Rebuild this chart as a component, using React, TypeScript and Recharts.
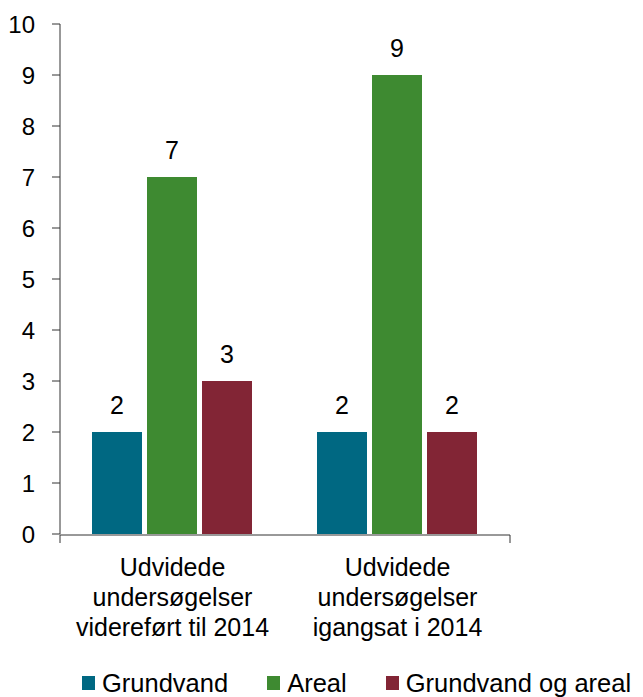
import React from "react";
import { BarChart, Bar, XAxis, YAxis, Legend, LabelList } from "recharts";

const categories = [
  "Udvidede undersøgelser videreført til 2014",
  "Udvidede undersøgelser igangsat i 2014",
];
const categoryLines: string[][] = [
  ["Udvidede", "undersøgelser", "videreført til 2014"],
  ["Udvidede", "undersøgelser", "igangsat i 2014"],
];
const grundvand = [2, 2];
const areal = [7, 9];
const grundvandOgAreal = [3, 2];
const yTicks = [0, 1, 2, 3, 4, 5, 6, 7, 8, 9, 10];
const boundaryTicks = [0, 1, 2];

const seriesNames = ["Grundvand", "Areal", "Grundvand og areal"];
const seriesColors = ["#006882", "#3E8A31", "#822535"];

const data = categories.map((c, i) => ({
  name: c,
  grundvand: grundvand[i],
  areal: areal[i],
  begge: grundvandOgAreal[i],
}));

const FONT = "'Liberation Sans', Arial, Helvetica, sans-serif";

const CategoryTick = (props: any) => {
  const { x, y, payload } = props;
  const idx = categories.indexOf(payload.value);
  const lines = idx >= 0 ? categoryLines[idx] : [String(payload.value)];
  return (
    <text x={x} y={y} textAnchor="middle" fill="#000" fontSize={25} fontFamily={FONT}>
      {lines.map((l, i) => (
        <tspan key={i} x={x} dy={i === 0 ? 42 : 30}>
          {l}
        </tspan>
      ))}
    </text>
  );
};

const EmptyTick = () => <g />;

const LegendContent = () => {
  return (
    <div style={{ display: "flex", alignItems: "center", paddingLeft: 82, fontFamily: FONT }}>
      {seriesNames.map((name, i) => (
        <div key={i} style={{ display: "flex", alignItems: "center", marginRight: 39 }}>
          <div style={{ width: 13, height: 14, background: seriesColors[i], marginRight: 7 }} />
          <span style={{ fontSize: 25.5, color: "#000", lineHeight: "30px", whiteSpace: "nowrap" }}>{name}</span>
        </div>
      ))}
    </div>
  );
};

export default function App() {
  return (
    <div style={{ position: "absolute", left: 0, top: 0, width: 643, height: 697, background: "#fff", fontFamily: FONT }}>
      <BarChart
        width={643}
        height={697}
        data={data}
        margin={{ top: 24, right: 133, bottom: 0, left: 0 }}
        barCategoryGap={32}
        barGap={5}
      >
        <XAxis
          dataKey="name"
          height={1}
          axisLine={false}
          tickLine={false}
          tickSize={0}
          tickMargin={0}
          interval={0}
          tick={<CategoryTick />}
        />
        <XAxis
          xAxisId="bounds"
          type="number"
          domain={[0, 2]}
          ticks={boundaryTicks}
          interval={0}
          height={130}
          tick={<EmptyTick />}
          tickSize={8}
          axisLine={{ stroke: "#333" }}
          tickLine={{ stroke: "#333" }}
        />
        <YAxis
          width={60}
          domain={[0, 10]}
          ticks={yTicks}
          interval={0}
          tickSize={8}
          tickMargin={17}
          axisLine={{ stroke: "#333" }}
          tickLine={{ stroke: "#333" }}
          tick={{ fill: "#000", fontSize: 24 }}
        />
        <Legend
          verticalAlign="bottom"
          height={32}
          wrapperStyle={{ top: 668, left: 0, width: 643, height: 32 }}
          content={<LegendContent />}
        />
        <Bar dataKey="grundvand" name={seriesNames[0]} fill={seriesColors[0]} isAnimationActive={false}>
          <LabelList dataKey="grundvand" position="top" offset={18} fill="#000" fontSize={25} />
        </Bar>
        <Bar dataKey="areal" name={seriesNames[1]} fill={seriesColors[1]} isAnimationActive={false}>
          <LabelList dataKey="areal" position="top" offset={18} fill="#000" fontSize={25} />
        </Bar>
        <Bar dataKey="begge" name={seriesNames[2]} fill={seriesColors[2]} isAnimationActive={false}>
          <LabelList dataKey="begge" position="top" offset={18} fill="#000" fontSize={25} />
        </Bar>
      </BarChart>
    </div>
  );
}
